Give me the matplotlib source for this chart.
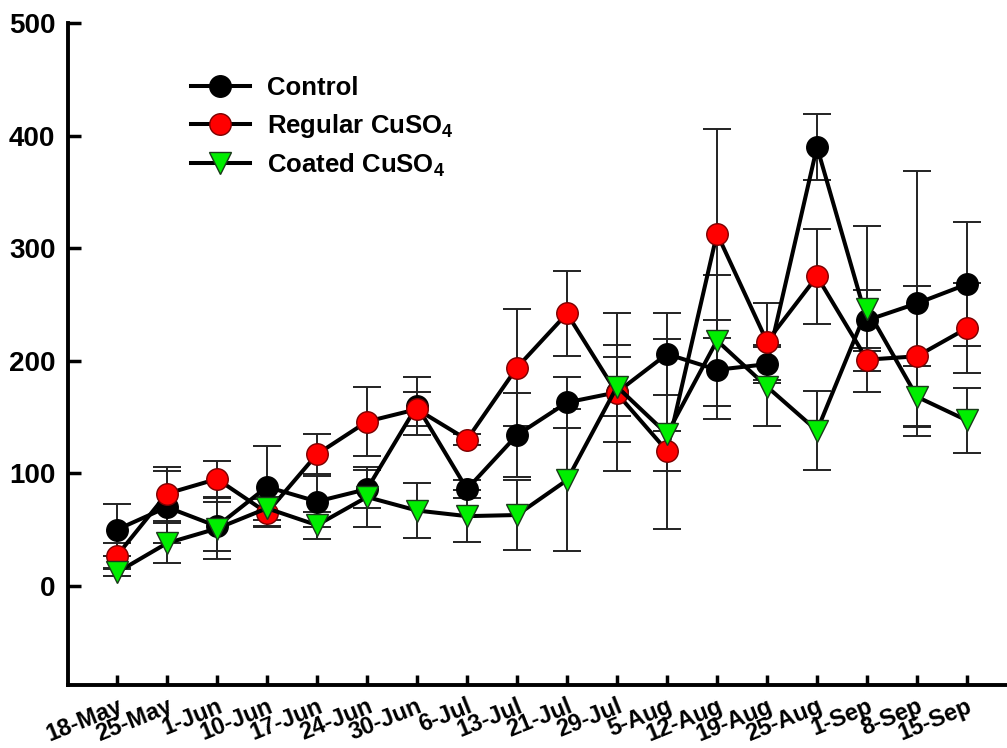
import matplotlib.pyplot as plt
import numpy as np

plt.rcParams["font.family"] = ["Liberation Sans", "DejaVu Sans"]
plt.rcParams["mathtext.fontset"] = "custom"
plt.rcParams["mathtext.rm"] = "Liberation Sans:bold"
plt.rcParams["mathtext.bf"] = "Liberation Sans:bold"

dates = ["18-May", "25-May", "1-Jun", "10-Jun", "17-Jun", "24-Jun", "30-Jun", "6-Jul",
         "13-Jul", "21-Jul", "29-Jul", "5-Aug", "12-Aug", "19-Aug", "25-Aug", "1-Sep",
         "8-Sep", "15-Sep"]

control = [50, 70, 53, 88, 75, 86, 160, 86, 134, 163, 172, 206, 192, 197, 390, 236, 251, 268]
control_err = [23, 32, 22, 36, 23, 17, 26, 8, 37, 23, 70, 36, 44, 17, 29, 27, 118, 55]

regular = [27, 82, 95, 65, 117, 146, 157, 130, 194, 242, 171, 120, 313, 217, 275, 201, 204, 229]
regular_err = [11, 24, 16, 12, 18, 31, 15, 5, 52, 38, 43, 18, 93, 34, 42, 10, 62, 40]

coated = [12, 38, 51, 69, 54, 79, 67, 62, 63, 94, 177, 135, 218, 177, 138, 246, 168, 147]
coated_err = [3, 18, 27, 10, 12, 27, 24, 23, 31, 63, 26, 84, 58, 35, 35, 74, 27, 29]

x = np.arange(len(dates))

fig = plt.figure(figsize=(10.07, 7.48), dpi=100)
ax = fig.add_axes([0.0675, 0.0842, 0.9325, 0.885])

series = [
    ("Control", control, control_err, "o", "black", "black"),
    ("Regular CuSO$_4$", regular, regular_err, "o", "#FF0000", "#7A0000"),
    ("Coated CuSO$_4$", coated, coated_err, "v", "#00EE00", "#1A3A1A"),
]

for i, (label, vals, errs, mk, fc, ec) in enumerate(series):
    ax.errorbar(x, vals, yerr=errs, fmt="none", ecolor="#222222", elinewidth=1.4,
                capsize=10, capthick=1.4, zorder=2 + i * 0.1)
    ax.plot(x, vals, color="black", linewidth=2.9, marker=mk, markersize=15.5 if mk == "o" else 16.5,
            markerfacecolor=fc, markeredgecolor=ec, markeredgewidth=1.0, label=label,
            zorder=3 + i)

ax.set_xlim(-0.98, 17.8)
ax.set_ylim(-88, 500)
ax.set_yticks([0, 100, 200, 300, 400, 500])
ax.set_xticks(x)
ax.set_xticklabels(dates, rotation=22, ha="right", rotation_mode="anchor", fontsize=17,
                   fontweight="bold")
ax.tick_params(axis="y", direction="in", length=9, width=2.5, labelsize=20, pad=9)
ax.tick_params(axis="x", direction="in", length=7, width=2.5, pad=7)
for lab in ax.get_yticklabels():
    lab.set_fontweight("bold")

ax.spines["top"].set_visible(False)
ax.spines["right"].set_visible(False)
ax.spines["left"].set_linewidth(2.8)
ax.spines["bottom"].set_linewidth(2.8)

leg = ax.legend(loc="upper left", bbox_to_anchor=(0.12, 0.935), frameon=False, fontsize=18.5,
                handlelength=2.3, handletextpad=0.65, labelspacing=0.45, numpoints=1,
                borderaxespad=0)
for t in leg.get_texts():
    t.set_fontweight("bold")

fig.savefig("out.png", dpi=100)
